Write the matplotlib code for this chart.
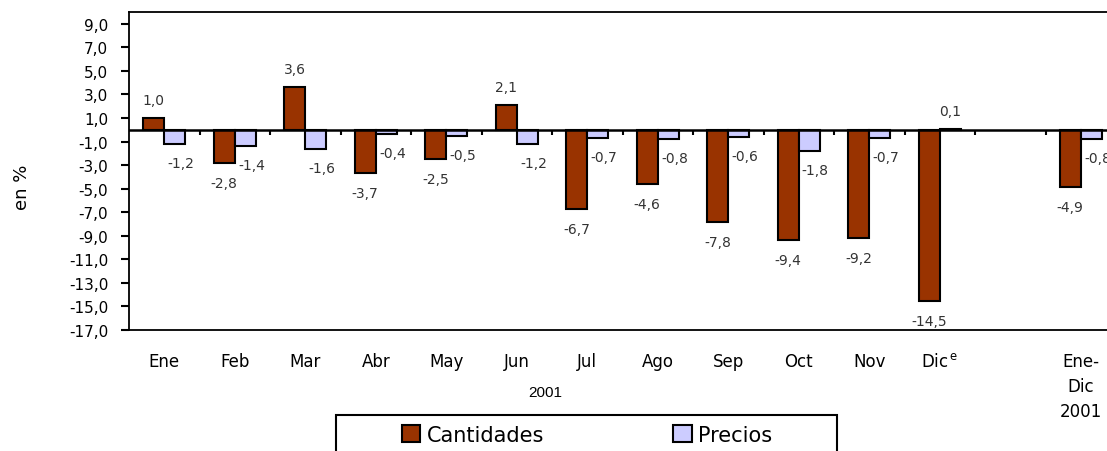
import matplotlib.pyplot as plt
from matplotlib.patches import Rectangle
import numpy as np

# data (variación en %, 2001)
categories = ["Ene", "Feb", "Mar", "Abr", "May", "Jun", "Jul", "Ago",
              "Sep", "Oct", "Nov", "Dic$^{\\,\\mathrm{e}}$", "",
              "Ene-\nDic\n2001"]
cantidades = [1.0, -2.8, 3.6, -3.7, -2.5, 2.1, -6.7, -4.6,
              -7.8, -9.4, -9.2, -14.5, np.nan, -4.9]
precios = [-1.2, -1.4, -1.6, -0.4, -0.5, -1.2, -0.7, -0.8,
           -0.6, -1.8, -0.7, 0.1, np.nan, -0.8]
y_ticks = list(range(-17, 10, 2))

COL_CANT = "#993300"
COL_PREC = "#CCCCFF"


def fmt(v):
    return f"{v:.1f}".replace(".", ",")


def main():
    plt.rcParams['font.family'] = ['DejaVu Sans']
    fig = plt.figure(figsize=(11.07, 4.52), dpi=100)
    # axes run a little past the right edge, as in the reference
    ax = fig.add_axes([129 / 1107, 1 - 331 / 452, 987 / 1107, 318 / 452])

    x = np.arange(len(categories))
    w = 0.3
    ax.bar(x - w / 2, cantidades, w, color=COL_CANT, edgecolor="black",
           linewidth=1.5, label="Cantidades", zorder=3)
    ax.bar(x + w / 2, precios, w, color=COL_PREC, edgecolor="black",
           linewidth=1.5, label="Precios", zorder=3)

    # value labels
    for i, (c, p) in enumerate(zip(cantidades, precios)):
        if not np.isnan(c):
            dy = 18 if c > 0 else -20
            ax.annotate(fmt(c), (x[i] - w / 2, c), xytext=(0, dy),
                        textcoords="offset pixels", ha="center", va="center",
                        fontsize=10, color="#333333")
        if not np.isnan(p):
            if p > 0:
                off = (0, 18)
            else:
                off = (6, -19)
            ax.annotate(fmt(p), (x[i] + w / 2, p), xytext=off,
                        textcoords="offset pixels", ha="center", va="center",
                        fontsize=10, color="#333333")

    # zero line with category tick marks
    ax.axhline(0, color="black", lw=1.8, zorder=4)
    ax.vlines(np.arange(0.5, len(categories) - 1), -0.45, 0,
              color="black", lw=1.5, zorder=4)

    ax.set_xlim(-0.5, len(categories) - 0.5)
    ax.set_ylim(-17, 10)
    ax.set_yticks(y_ticks)
    ax.set_yticklabels([fmt(t) for t in y_ticks], fontsize=11)
    ax.set_xticks(x)
    ax.set_xticklabels(categories, fontsize=12, linespacing=1.5)
    ax.tick_params(axis="x", length=0, pad=16)
    ax.tick_params(axis="y", direction="out", length=6, width=1.5, pad=9)
    ax.spines["right"].set_visible(False)
    for s in ["left", "top", "bottom"]:
        ax.spines[s].set_linewidth(1.3)

    fig.text(22 / 1107, 1 - 187 / 452, "en %", rotation=90,
             ha="center", va="center", fontsize=13)
    fig.text(545 / 1107, 1 - 393 / 452, "2001", ha="center", va="center",
             fontsize=11, family="Liberation Sans")

    # legend box, clipped by the bottom edge like the original
    fig.patches.append(Rectangle((336 / 1107, -10 / 452), 501 / 1107,
                                 (452 - 416 + 10) / 452,
                                 transform=fig.transFigure, fill=False,
                                 edgecolor="black", linewidth=1.5))
    fig.legend(loc="center", bbox_to_anchor=(587 / 1107, 1 - 436 / 452),
               ncol=2, frameon=False, fontsize=15, handlelength=0.9,
               handleheight=0.9, handletextpad=0.3, columnspacing=6.2,
               borderpad=0)

    fig.savefig("out.png", dpi=100)


if __name__ == "__main__":
    main()
